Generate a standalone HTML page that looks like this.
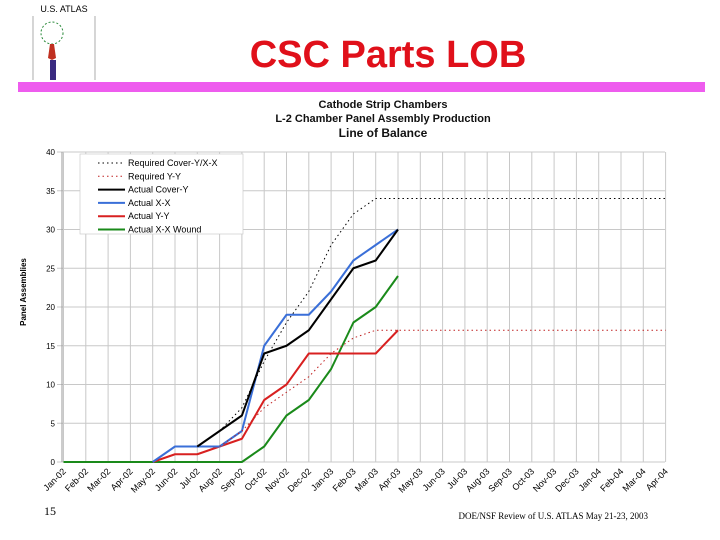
<!DOCTYPE html>
<html><head><meta charset="utf-8"><style>
body{margin:0;width:720px;height:540px;background:#fff;overflow:hidden;font-family:"Liberation Sans",sans-serif}
svg{display:block}
</style></head><body>
<svg width="720" height="540">
<g>
<text x="64" y="12" font-size="9" text-anchor="middle" fill="#000">U.S. ATLAS</text>
<line x1="33" y1="16" x2="33" y2="80" stroke="#888" stroke-width="0.7"/>
<line x1="95" y1="16" x2="95" y2="80" stroke="#888" stroke-width="0.7"/>
<circle cx="52" cy="33" r="11" fill="none" stroke="#2a8a3a" stroke-dasharray="2,2"/>
<path d="M50 44 L54 44 L56 58 L52 60 L48 58 Z" fill="#c03020"/>
<rect x="50" y="60" width="6" height="20" fill="#3a2a80"/>
</g>
<text x="388" y="67" font-size="38" font-weight="bold" fill="#e0101a" text-anchor="middle">CSC Parts LOB</text>
<rect x="18" y="82" width="687" height="10" fill="#ee5cee"/>
<g font-weight="bold" text-anchor="middle" fill="#111">
<text x="383" y="108" font-size="11">Cathode Strip Chambers</text>
<text x="383" y="122" font-size="11">L-2 Chamber Panel Assembly Production</text>
<text x="383" y="137" font-size="12">Line of Balance</text>
</g>
<g id="chart"></g>
<text x="44" y="515" font-family="Liberation Serif" font-size="12">15</text>
<text x="648" y="519" font-family="Liberation Serif" font-size="9" text-anchor="end">DOE/NSF Review of U.S. ATLAS May 21-23, 2003</text>
</svg>
<script>
const categories=["Jan-02","Feb-02","Mar-02","Apr-02","May-02","Jun-02","Jul-02","Aug-02","Sep-02","Oct-02","Nov-02","Dec-02","Jan-03","Feb-03","Mar-03","Apr-03","May-03","Jun-03","Jul-03","Aug-03","Sep-03","Oct-03","Nov-03","Dec-03","Jan-04","Feb-04","Mar-04","Apr-04"];
const yTicks=[0,5,10,15,20,25,30,35,40];
const reqCover=[null,null,null,null,null,null,2,4,7,13,18,22,28,32,34,34,34,34,34,34,34,34,34,34,34,34,34,34];
const reqYY=[null,null,null,null,null,null,null,2,4,7,9,11,14,16,17,17,17,17,17,17,17,17,17,17,17,17,17,17];
const actCover=[null,null,null,null,null,null,2,4,6,14,15,17,21,25,26,30];
const actXX=[null,null,null,null,0,2,2,2,4,15,19,19,22,26,28,30];
const actYY=[null,null,null,null,0,1,1,2,3,8,10,14,14,14,14,17];
const actWound=[0,0,0,0,0,0,0,0,0,2,6,8,12,18,20,24];
const NS="http://www.w3.org/2000/svg";
const g=document.getElementById('chart');
const X0=63.5,DX=22.3,Y0=462,YMAX=40,YTOP=152;
const xs=i=>X0+i*DX;
const ys=v=>Y0-(v/YMAX)*(Y0-YTOP);
function mk(t,a){const e=document.createElementNS(NS,t);for(const k in a)e.setAttribute(k,a[k]);g.appendChild(e);return e;}
for(let i=0;i<categories.length;i++){
 const l=mk('line',{x1:xs(i),x2:xs(i),y1:YTOP,y2:Y0,stroke:'#c8c8c8','stroke-width':1});
 
 
 const t=mk('text',{x:0,y:0,'font-size':9,'text-anchor':'end',transform:`translate(${xs(i)+3},${Y0+10}) rotate(-45)`});
 t.textContent=categories[i];
 
 
}
yTicks.forEach(v=>{
 const l=mk('line',{x1:57,x2:665,y1:ys(v),y2:ys(v),stroke:'#c8c8c8','stroke-width':1});
 
 
 const t=mk('text',{x:55,y:ys(v)+3,'font-size':8,'text-anchor':'end'});
 t.textContent=v;
 
 
});
const ax=mk('line',{x1:62,x2:62,y1:YTOP,y2:Y0,stroke:'#999'});


const yt=mk('text',{x:0,y:0,'font-size':8,'font-weight':'bold','text-anchor':'middle',transform:'translate(26,292) rotate(-90)'});
yt.textContent='Panel Assemblies';


const lb=mk('rect',{x:80,y:154,width:163,height:80,fill:'#fff',stroke:'#ccc','stroke-width':0.7});


const series=[
 {d:reqCover,c:'#000',w:1,dash:'1.5,3',n:'Required Cover-Y/X-X',id:'required-cover'},
 {d:reqYY,c:'#c02020',w:1,dash:'1.5,3',n:'Required Y-Y',id:'required-yy'},
 {d:actCover,c:'#000',w:2,dash:'',n:'Actual Cover-Y',id:'actual-cover'},
 {d:actXX,c:'#3a6fd8',w:2,dash:'',n:'Actual X-X',id:'actual-xx'},
 {d:actYY,c:'#d82020',w:2,dash:'',n:'Actual Y-Y',id:'actual-yy'},
 {d:actWound,c:'#1a8a1a',w:2,dash:'',n:'Actual X-X Wound',id:'actual-xx-wound'}];
series.slice().reverse().forEach(s=>{
 let p='';s.d.forEach((v,i)=>{if(v!==null)p+=(p?'L':'M')+xs(i)+' '+ys(v);});
 const e=mk('path',{d:p,fill:'none',stroke:s.c,'stroke-width':s.w,'stroke-dasharray':s.dash,'stroke-linejoin':'round'});
 
 
});
series.forEach((s,k)=>{
 const y=163+k*13.3;
 const l=mk('line',{x1:98,x2:125,y1:y,y2:y,stroke:s.c,'stroke-width':s.w,'stroke-dasharray':s.dash});
 
 
 const t=mk('text',{x:128,y:y+3,'font-size':9});
 t.textContent=s.n;
 
 
});
</script>
</body></html>
